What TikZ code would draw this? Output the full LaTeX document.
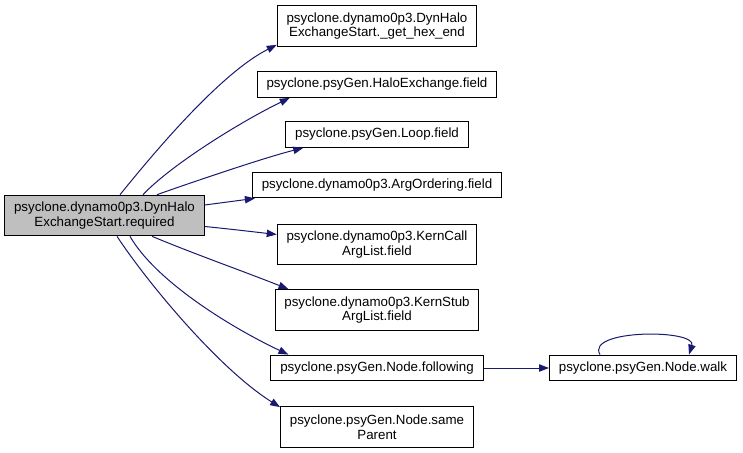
\documentclass[tikz,border=0pt]{standalone}
\usepackage{fontspec}
\setmainfont{Liberation Sans}
\usetikzlibrary{arrows.meta,calc}
\definecolor{edgeblue}{HTML}{191970}
\definecolor{maingray}{HTML}{BFBFBF}
\begin{document}
\begin{tikzpicture}[x=0.75pt,y=-0.75pt,
  box/.style={draw=black, line width=0.75pt, fill=white, align=center,
    font=\fontsize{10}{11}\selectfont, inner xsep=7pt, inner ysep=5pt,
    minimum height=19pt},
  boxtwo/.style={box, minimum height=30.5pt},
  mainbox/.style={boxtwo, fill=maingray},
  callarrow/.style={draw=edgeblue, line width=0.75pt,
    -{Triangle[length=7.5pt,width=5.5pt]}}]
\useasboundingbox (0,0) rectangle (743,453);

\node[mainbox] (main) at (104.5,215.5) {psyclone.dynamo0p3.DynHalo\\ExchangeStart.required};
\node[boxtwo] (hex) at (377,26) {psyclone.dynamo0p3.DynHalo\\ExchangeStart.\_get\_hex\_end};
\node[box] (halo) at (377,84.5) {psyclone.psyGen.HaloExchange.field};
\node[box] (loop) at (377,134.5) {psyclone.psyGen.Loop.field};
\node[box] (arg) at (377,185) {psyclone.dynamo0p3.ArgOrdering.field};
\node[boxtwo] (kcall) at (377,244.5) {psyclone.dynamo0p3.KernCall\\ArgList.field};
\node[boxtwo] (kstub) at (377,310) {psyclone.dynamo0p3.KernStub\\ArgList.field};
\node[box] (foll) at (377,368) {psyclone.psyGen.Node.following};
\node[boxtwo] (same) at (377,427) {psyclone.psyGen.Node.same\\Parent};
\node[box] (walk) at (643,368) {psyclone.psyGen.Node.walk};

\draw[callarrow] ($(main.north)+(15.5,0)$) .. controls (145,164) and (217,75) .. ($(hex.south west)+(0,-2)$);
\draw[callarrow] ($(main.north)+(38.5,0)$) .. controls (171,165) and (240,122) .. ($(halo.south west)+(33,0)$);
\draw[callarrow] ($(main.north)+(52.5,0)$) .. controls (187,184) and (263,158) .. ($(loop.south west)+(18,0)$);
\draw[callarrow] ($(main.east)+(0,-10.5)$) -- ($(arg.south west)+(3,0)$);
\draw[callarrow] ($(main.east)+(0,11)$) .. controls (230,229) and (255,232) .. ($(kcall.west)+(0,-10)$);
\draw[callarrow] ($(main.south)+(47.5,0)$) .. controls (197,255) and (240,270) .. ($(kstub.north west)+(14,0)$);
\draw[callarrow] ($(main.south)+(25.5,0)$) .. controls (155,280) and (228,326) .. ($(foll.north west)+(18,0)$);
\draw[callarrow] ($(main.south)+(12.5,0)$) .. controls (147,282) and (219,369) .. ($(same.north west)+(0,1)$);
\draw[callarrow] (foll.east) -- (walk.west);
\draw[callarrow] ($(walk.north)+(-43,0)$) .. controls (585,329) and (697,329) .. ($(walk.north)+(46,0)$);
\end{tikzpicture}
\end{document}
